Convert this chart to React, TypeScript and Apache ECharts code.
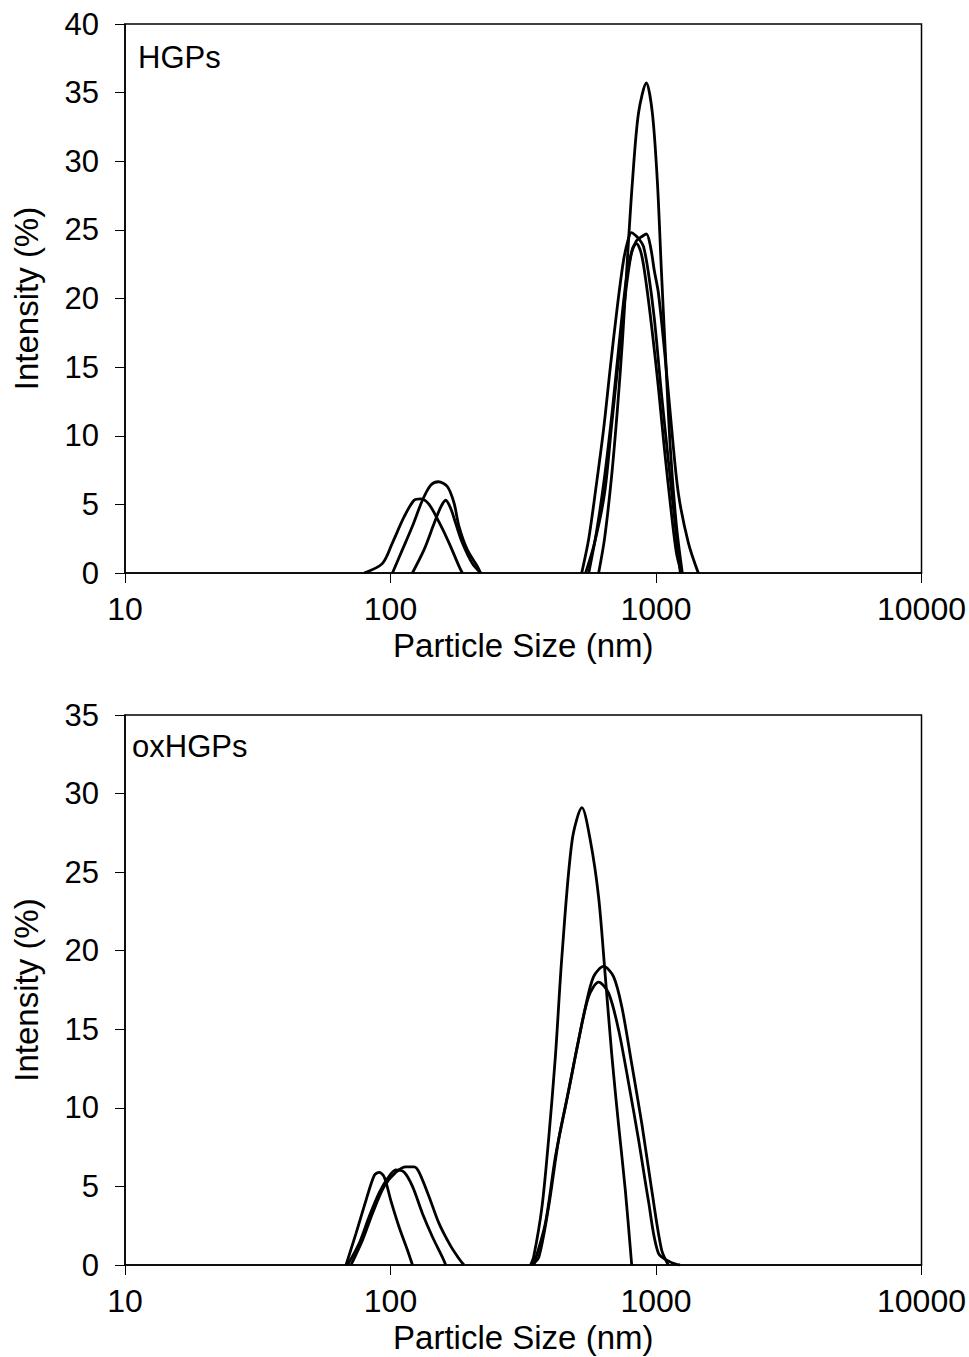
import React, { useEffect, useRef } from "react";
import * as echarts from "echarts";

// ---------- Tick labels ----------
const xTicks = [10, 100, 1000, 10000];
const yTicksTop = [0, 5, 10, 15, 20, 25, 30, 35, 40];
const yTicksBottom = [0, 5, 10, 15, 20, 25, 30, 35];

// ---------- HGPs (top panel) : particle size (nm) / intensity (%) ----------
const hgpSmallA_x = [79.6, 93.3, 101.7, 112.6, 122.7, 130.1, 139.7, 152.4, 166.1, 181.1, 186.4];
const hgpSmallA_y = [0, 0.7, 2.2, 4.1, 5.3, 5.4, 5.0, 3.7, 2.2, 0.5, 0];
const hgpSmallB_x = [101.7, 110.9, 120.9, 131.9, 141.8, 151.4, 163.7, 173.5, 181.1, 194.6, 212.2, 218.5];
const hgpSmallB_y = [0, 1.7, 3.4, 5.3, 6.4, 6.65, 6.3, 5.1, 3.4, 1.7, 0.5, 0];
const hgpSmallC_x = [120.9, 133.8, 145.9, 154.6, 161.4, 168.6, 176.1, 186.4, 203.2, 218.5];
const hgpSmallC_y = [0, 1.7, 3.6, 4.8, 5.3, 4.7, 3.6, 2.2, 0.7, 0];

const hgpBigD_x = [608, 640, 680, 716, 748, 781, 815, 859, 920, 969, 1012, 1048, 1085, 1133, 1193, 1256];
const hgpBigD_y = [0, 2.5, 7, 12, 17, 23, 28.5, 33.5, 35.7, 33.5, 28.5, 22, 16, 9, 3.5, 0];
const hgpBigE_x = [525, 558, 592, 635, 673, 716, 755, 788, 808, 837, 866, 897, 936, 986, 1048, 1113, 1183, 1235];
const hgpBigE_y = [0, 2.5, 6, 10.5, 15, 19.5, 22.8, 24.4, 24.8, 24.6, 24.3, 23.8, 21.9, 18.5, 13.1, 8.2, 3.4, 0];
const hgpBigF_x = [543, 587, 640, 680, 722, 768, 808, 844, 882, 920, 953, 986, 1021, 1085, 1143, 1214, 1324, 1443];
const hgpBigF_y = [0, 2.2, 5.8, 10.7, 15.5, 20.4, 23.3, 24.2, 24.5, 24.7, 23.8, 22, 20.4, 15.5, 10.7, 5.8, 2.2, 0];
const hgpBigG_x = [558, 597, 640, 686, 729, 774, 815, 844, 882, 920, 969, 1021, 1076, 1133, 1193, 1247];
const hgpBigG_y = [0, 3, 7, 12, 17, 21.5, 23.6, 24, 23.2, 21, 17.5, 13.5, 9, 5, 1.5, 0];

// ---------- oxHGPs (bottom panel) ----------
const oxSmallA_x = [68.0, 74.1, 80.8, 86.9, 90.7, 94.7, 100.3, 107.8, 115.8, 121.0];
const oxSmallA_y = [0, 2.0, 4.1, 5.7, 5.9, 5.6, 4.1, 2.4, 0.95, 0];
const oxSmallB_x = [68.9, 76.3, 83.2, 90.7, 97.4, 104.8, 112.6, 121.0, 131.8, 143.8, 156.8, 161.5];
const oxSmallB_y = [0, 1.4, 3.1, 4.6, 5.5, 6.05, 5.9, 5.0, 3.3, 1.8, 0.5, 0];
const oxSmallC_x = [71.0, 78.5, 85.6, 94.7, 104.8, 114.3, 122.8, 128.2, 139.7, 152.3, 168.6, 181.2, 189.1];
const oxSmallC_y = [0, 1.6, 3.3, 5.0, 5.9, 6.25, 6.25, 5.9, 4.35, 2.65, 1.2, 0.4, 0];

const oxBigT_x = [337, 346, 372, 394, 418, 442, 483, 526, 566, 608, 644, 682, 722, 766, 810];
const oxBigT_y = [0, 0.5, 3.7, 8.0, 13.3, 19.6, 27.0, 29.1, 27.0, 23.4, 18.4, 13.3, 9.0, 4.8, 0];
const oxBigS2_x = [346, 383, 418, 456, 497, 542, 582, 635, 692, 744, 810, 884, 963, 1050, 1113];
const oxBigS2_y = [0, 2.65, 6.9, 10.1, 13.3, 16.4, 18.35, 19.0, 18.35, 16.4, 12.8, 9.0, 4.8, 0.95, 0];
const oxBigS3_x = [341, 362, 394, 430, 469, 511, 558, 608, 663, 722, 788, 859, 936, 1021, 1146, 1231];
const oxBigS3_y = [0, 0.5, 3.7, 8.0, 11.1, 14.3, 17.1, 18.0, 17.3, 15.0, 11.6, 8.0, 4.1, 0.75, 0.15, 0];

const topCurves = [
  [hgpSmallA_x, hgpSmallA_y],
  [hgpSmallB_x, hgpSmallB_y],
  [hgpSmallC_x, hgpSmallC_y],
  [hgpBigD_x, hgpBigD_y],
  [hgpBigE_x, hgpBigE_y],
  [hgpBigF_x, hgpBigF_y],
  [hgpBigG_x, hgpBigG_y],
];
const bottomCurves = [
  [oxSmallA_x, oxSmallA_y],
  [oxSmallB_x, oxSmallB_y],
  [oxSmallC_x, oxSmallC_y],
  [oxBigT_x, oxBigT_y],
  [oxBigS2_x, oxBigS2_y],
  [oxBigS3_x, oxBigS3_y],
];

const FONT = "'Liberation Sans', Arial, sans-serif";

export default function App() {
  const ref = useRef<HTMLDivElement>(null);

  useEffect(() => {
    if (!ref.current) return;
    const chart = echarts.init(ref.current, null, { renderer: "svg" });

    const mkX = (gridIndex: number) => ({
      type: "log",
      logBase: 10,
      gridIndex,
      min: xTicks[0],
      max: xTicks[xTicks.length - 1],
      name: "Particle Size (nm)",
      nameLocation: "middle",
      nameGap: 56,
      nameTextStyle: { fontFamily: FONT, fontSize: 33, color: "#000" },
      axisLine: { show: true, onZero: false, lineStyle: { color: "#000", width: 1.5 } },
      axisTick: { show: true, inside: false, length: 10, lineStyle: { color: "#000", width: 1 } },
      minorTick: { show: false },
      splitLine: { show: false },
      minorSplitLine: { show: false },
      axisLabel: { fontFamily: FONT, fontSize: 32, color: "#000", margin: 20, formatter: (v: number) => String(Math.round(v)) },
    });
    const mkY = (gridIndex: number, ticks: number[]) => ({
      type: "value",
      gridIndex,
      min: ticks[0],
      max: ticks[ticks.length - 1],
      interval: 5,
      name: "Intensity (%)",
      nameLocation: "middle",
      nameGap: 82,
      nameRotate: 90,
      nameTextStyle: { fontFamily: FONT, fontSize: 33, color: "#000" },
      axisLine: { show: true, lineStyle: { color: "#000", width: 1.5 } },
      axisTick: { show: true, inside: false, length: 10, lineStyle: { color: "#000", width: 1 } },
      splitLine: { show: false },
      axisLabel: { fontFamily: FONT, fontSize: 31, color: "#000", margin: 26 },
    });

    const mkSeries = (curves: number[][][], idx: number) =>
      curves.map(([xs, ys]) => ({
        type: "line",
        xAxisIndex: idx,
        yAxisIndex: idx,
        data: xs.map((x, i) => [x, ys[i]]),
        smooth: 0.3,
        symbol: "none",
        lineStyle: { color: "#000", width: 2.8 },
        z: 3,
      }));

    chart.setOption({
      animation: false,
      backgroundColor: "#fff",
      grid: [
        { left: 125, top: 24, width: 798, height: 549, show: true, borderColor: "#000", borderWidth: 1.5, backgroundColor: "transparent" },
        { left: 125, top: 715, width: 798, height: 550, show: true, borderColor: "#000", borderWidth: 1.5, backgroundColor: "transparent" },
      ],
      xAxis: [mkX(0), mkX(1)],
      yAxis: [mkY(0, yTicksTop), mkY(1, yTicksBottom)],
      series: [...mkSeries(topCurves, 0), ...mkSeries(bottomCurves, 1)],
      graphic: [
        { type: "text", left: 138, top: 42, style: { text: "HGPs", fontFamily: FONT, fontSize: 31, fill: "#000" } },
        { type: "text", left: 132, top: 731, style: { text: "oxHGPs", fontFamily: FONT, fontSize: 31, fill: "#000" } },
      ],
    });

    return () => chart.dispose();
  }, []);

  return <div ref={ref} style={{ position: "fixed", left: 0, top: 0, width: 969, height: 1357 }} />;
}
